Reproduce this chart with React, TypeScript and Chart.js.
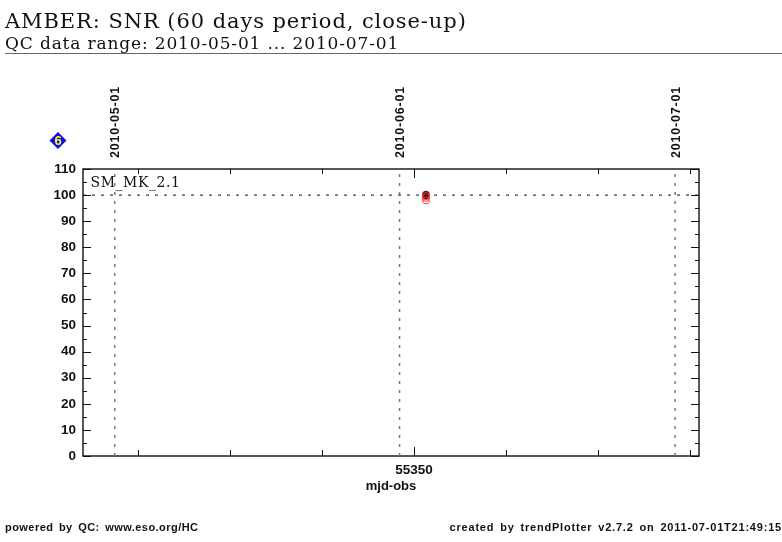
import React, { useEffect, useRef } from "react";
import { Chart, registerables } from "chart.js";

Chart.register(...registerables);

const titleText = "AMBER: SNR (60 days period, close-up)";
const subtitleText = "QC data range: 2010-05-01 ... 2010-07-01";
const footerLeft = "powered by QC: www.eso.org/HC";
const footerRight = "created by trendPlotter v2.7.2 on 2011-07-01T21:49:15";
const plotLabel = "SM_MK_2.1";
const badgeValue = "6";

const xMin = 55314;
const xMax = 55381;
const yMin = 0;
const yMax = 110;
const xStep = 10;
const yStep = 10;
const xLabelled = [55350];

const dateLabels = ["2010-05-01", "2010-06-01", "2010-07-01"];
const dateMjd = [55317.45, 55348.43, 55378.4];
const referenceLevel = 100;

const obsX = [55351.3, 55351.3, 55351.3];
const obsRed = [98, 99, 99.6];
const obsBlackX = [55351.3, 55351.3];
const obsBlack = [99.8, 100.2];

const SANS = '"Liberation Sans", sans-serif';
const SERIF = '"DejaVu Serif", serif';

const frameAndAnnotations = {
  id: "frameAndAnnotations",
  beforeDatasetsDraw(chart: any) {
    const { ctx, chartArea: a, scales } = chart;
    const x = scales.x;
    const y = scales.y;
    ctx.save();
    ctx.strokeStyle = "#111";
    ctx.lineWidth = 1;
    ctx.beginPath();
    for (let v = Math.ceil(xMin / xStep) * xStep; v <= xMax; v += xStep) {
      const p = Math.round(x.getPixelForValue(v)) + 0.5;
      const bottomLen = xLabelled.includes(v) ? 9 : 6;
      ctx.moveTo(p, a.bottom);
      ctx.lineTo(p, a.bottom - bottomLen);
      ctx.moveTo(p, a.top);
      ctx.lineTo(p, a.top + (xLabelled.includes(v) ? 9 : 5));
    }
    for (let v = yMin; v <= yMax; v += yStep / 2) {
      const p = Math.round(y.getPixelForValue(v)) + 0.5;
      const len = v % yStep === 0 ? 8 : 4;
      ctx.moveTo(a.left, p);
      ctx.lineTo(a.left + len, p);
      ctx.moveTo(a.right, p);
      ctx.lineTo(a.right - len, p);
    }
    ctx.stroke();
    ctx.lineWidth = 1.4;
    ctx.strokeRect(a.left, a.top, a.right - a.left, a.bottom - a.top);
    ctx.restore();
  },
  afterDraw(chart: any) {
    const { ctx, chartArea: a, scales } = chart;
    ctx.save();
    ctx.fillStyle = "#111";
    ctx.font = `bold 12.5px ${SANS}`;
    ctx.letterSpacing = "0.8px";
    ctx.textAlign = "left";
    ctx.textBaseline = "middle";
    dateLabels.forEach((d, i) => {
      const p = scales.x.getPixelForValue(dateMjd[i]);
      ctx.save();
      ctx.translate(p + 1, a.top - 11);
      ctx.rotate(-Math.PI / 2);
      ctx.fillText(d, 0, 0);
      ctx.restore();
    });
    ctx.letterSpacing = "0.55px";
    ctx.font = `14px ${SERIF}`;
    ctx.textBaseline = "alphabetic";
    ctx.fillText(plotLabel, 90.5, 187);
    ctx.letterSpacing = "0px";

    ctx.fillStyle = "#0b0bf5";
    ctx.beginPath();
    ctx.moveTo(58, 132);
    ctx.lineTo(66.5, 140.5);
    ctx.lineTo(58, 149);
    ctx.lineTo(49.5, 140.5);
    ctx.closePath();
    ctx.fill();
    ctx.fillStyle = "#ffff00";
    ctx.font = `bold 13px ${SANS}`;
    ctx.textAlign = "center";
    ctx.textBaseline = "middle";
    ctx.fillText(badgeValue, 58, 141);
    ctx.restore();
  },
};

export default function App() {
  const ref = useRef<HTMLCanvasElement>(null);

  useEffect(() => {
    document.body.style.margin = "0";
    document.body.style.background = "#fff";
    const dateLines = dateMjd.map((m, i) => ({
      label: dateLabels[i],
      type: "line" as const,
      data: [
        { x: m, y: yMin },
        { x: m, y: yMax },
      ],
      borderColor: "#777",
      borderWidth: 1.5,
      borderDash: [3, 6],
      pointRadius: 0,
      showLine: true,
    }));
    const chart = new Chart(ref.current!, {
      type: "scatter",
      data: {
        datasets: [
          ...dateLines,
          {
            label: "reference",
            type: "line",
            data: [
              { x: xMin, y: referenceLevel },
              { x: xMax, y: referenceLevel },
            ],
            borderColor: "#111",
            borderWidth: 1,
            borderDash: [3, 6],
            pointRadius: 0,
            showLine: true,
          },
          {
            label: "SNR (all)",
            data: obsX.map((x, i) => ({ x, y: obsRed[i] })),
            backgroundColor: "rgba(255,255,255,0)",
            borderColor: "#f0433b",
            borderWidth: 1,
            pointRadius: 3.6,
          },
          {
            label: "SNR (latest)",
            data: obsBlackX.map((x, i) => ({ x, y: obsBlack[i] })),
            backgroundColor: "#200000",
            borderColor: "#8a0000",
            borderWidth: 1,
            pointRadius: 3.4,
          },
        ],
      },
      options: {
        animation: false,
        responsive: false,
        devicePixelRatio: 1,
        layout: { padding: { left: 0, top: 169, right: 83, bottom: 48 } },
        plugins: { legend: { display: false }, tooltip: { enabled: false } },
        scales: {
          x: {
            type: "linear",
            min: xMin,
            max: xMax,
            afterBuildTicks(s: any) {
              s.ticks = xLabelled.map((value) => ({ value }));
            },
            afterFit(s: any) {
              s.height = 38;
            },
            border: { display: false },
            grid: { display: false },
            ticks: {
              autoSkip: false,
              padding: -2,
              maxRotation: 0,
              color: "#111",
              font: { family: "Liberation Sans", size: 13.5, weight: "bold" },
              callback: (v: any) => String(v),
            },
            title: {
              display: true,
              text: "mjd-obs",
              color: "#111",
              padding: { top: 1, bottom: 0 },
              font: { family: "Liberation Sans", size: 13, weight: "bold" },
            },
          },
          y: {
            min: yMin,
            max: yMax,
            afterFit(s: any) {
              s.width = 83;
            },
            border: { display: false },
            grid: { display: false },
            ticks: {
              stepSize: yStep,
              padding: -1,
              color: "#111",
              font: { family: "Liberation Sans", size: 13.5, weight: "bold" },
            },
          },
        },
      },
      plugins: [frameAndAnnotations],
    } as any);
    return () => chart.destroy();
  }, []);

  const abs = (s: React.CSSProperties): React.CSSProperties => ({
    position: "absolute",
    margin: 0,
    whiteSpace: "pre",
    color: "#111",
    lineHeight: 1,
    ...s,
  });

  return (
    <div style={{ position: "relative", width: 782, height: 542, overflow: "hidden" }}>
      <canvas ref={ref} width={782} height={542} style={{ position: "absolute", left: 0, top: 0 }} />
      <div style={abs({ left: 5, top: 11, fontFamily: SERIF, fontSize: 21, letterSpacing: 0.92 })}>{titleText}</div>
      <div style={abs({ left: 5, top: 35, fontFamily: SERIF, fontSize: 17, letterSpacing: 0.85 })}>{subtitleText}</div>
      <div style={abs({ left: 5, top: 53, width: 777, height: 1, background: "#666" })} />
      <div style={abs({ left: 5, top: 522, fontFamily: SANS, fontSize: 11, fontWeight: 700, wordSpacing: 2, letterSpacing: 0.45 })}>{footerLeft}</div>
      <div style={abs({ right: 0, top: 522, fontFamily: SANS, fontSize: 11, fontWeight: 700, wordSpacing: 2, letterSpacing: 0.8 })}>{footerRight}</div>
    </div>
  );
}
